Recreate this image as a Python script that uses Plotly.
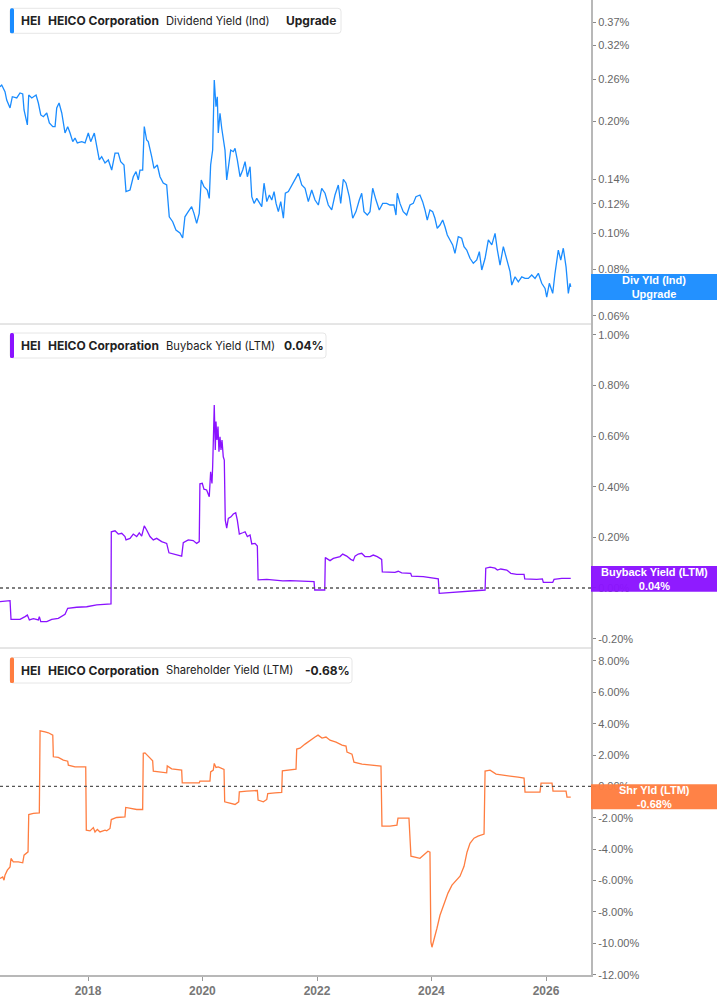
import plotly.graph_objects as go
import pandas as pd

# ---------------- data (dates as decimal years, values in %) ----------------
div_t = [2016.463, 2016.493, 2016.550, 2016.580, 2016.638, 2016.678, 2016.755, 2016.812, 2016.859, 2016.882,
         2016.940, 2016.964, 2017.017, 2017.092, 2017.132, 2017.174, 2017.219, 2017.279, 2017.324, 2017.384,
         2017.424, 2017.453, 2017.494, 2017.541, 2017.598, 2017.645, 2017.686, 2017.733, 2017.773, 2017.813,
         2017.890, 2017.948, 2018.005, 2018.047, 2018.110, 2018.163, 2018.197, 2018.239, 2018.297, 2018.355,
         2018.414, 2018.472, 2018.529, 2018.571, 2018.629, 2018.664, 2018.734, 2018.791, 2018.839, 2018.879,
         2018.908, 2018.955, 2018.983, 2019.025, 2019.053, 2019.113, 2019.153, 2019.211, 2019.258, 2019.315,
         2019.375, 2019.420, 2019.480, 2019.537, 2019.607, 2019.654, 2019.694, 2019.752, 2019.811, 2019.852,
         2019.899, 2019.944, 2019.979, 2020.026, 2020.084, 2020.119, 2020.143, 2020.178, 2020.206, 2020.236,
         2020.259, 2020.276, 2020.306, 2020.336, 2020.363, 2020.393, 2020.423, 2020.451, 2020.493, 2020.538,
         2020.568, 2020.608, 2020.655, 2020.702, 2020.743, 2020.783, 2020.830, 2020.860, 2020.900, 2020.947,
         2020.992, 2021.034, 2021.074, 2021.122, 2021.167, 2021.209, 2021.249, 2021.284, 2021.324, 2021.366,
         2021.412, 2021.446, 2021.499, 2021.558, 2021.616, 2021.674, 2021.733, 2021.791, 2021.848, 2021.907,
         2021.965, 2022.023, 2022.082, 2022.140, 2022.197, 2022.257, 2022.314, 2022.372, 2022.414, 2022.460,
         2022.507, 2022.564, 2022.624, 2022.681, 2022.739, 2022.781, 2022.821, 2022.879, 2022.926, 2022.973,
         2023.031, 2023.088, 2023.148, 2023.218, 2023.275, 2023.345, 2023.380, 2023.403, 2023.450, 2023.507,
         2023.567, 2023.625, 2023.682, 2023.729, 2023.799, 2023.846, 2023.887, 2023.927, 2023.974, 2024.021,
         2024.061, 2024.101, 2024.149, 2024.196, 2024.236, 2024.276, 2024.323, 2024.370, 2024.410, 2024.468,
         2024.527, 2024.568, 2024.615, 2024.672, 2024.730, 2024.790, 2024.835, 2024.877, 2024.935, 2024.992,
         2025.052, 2025.109, 2025.150, 2025.196, 2025.254, 2025.314, 2025.371, 2025.401, 2025.459, 2025.516,
         2025.576, 2025.633, 2025.691, 2025.750, 2025.808, 2025.866, 2025.925, 2025.983, 2026.012, 2026.058,
         2026.117, 2026.157, 2026.215, 2026.257, 2026.302, 2026.350, 2026.390, 2026.419, 2026.432]
div_yield = [0.2479, 0.2505, 0.2404, 0.2283, 0.2173, 0.2330, 0.2312, 0.2384, 0.2370, 0.2146,
             0.1956, 0.2355, 0.2312, 0.2355, 0.2241, 0.2081, 0.2059, 0.2107, 0.1980, 0.1936,
             0.1936, 0.2173, 0.2241, 0.2107, 0.1861, 0.1936, 0.1861, 0.1764, 0.1804, 0.1750,
             0.1764, 0.1750, 0.1861, 0.1764, 0.1861, 0.1696, 0.1575, 0.1607, 0.1546, 0.1575,
             0.1480, 0.1644, 0.1644, 0.1559, 0.1527, 0.1295, 0.1308, 0.1420, 0.1465, 0.1392,
             0.1480, 0.1480, 0.1936, 0.1782, 0.1764, 0.1607, 0.1496, 0.1527, 0.1420, 0.1366,
             0.1349, 0.1108, 0.1075, 0.1021, 0.1002, 0.0972, 0.1108, 0.1144, 0.1180, 0.1132,
             0.1064, 0.1132, 0.1392, 0.1335, 0.1308, 0.1242, 0.1527, 0.1675, 0.2584, 0.2190,
             0.2330, 0.1861, 0.2103, 0.1917, 0.1782, 0.1675, 0.1392, 0.1511, 0.1675, 0.1658,
             0.1692, 0.1575, 0.1420, 0.1480, 0.1559, 0.1420, 0.1511, 0.1255, 0.1204, 0.1242,
             0.1204, 0.1180, 0.1364, 0.1217, 0.1268, 0.1229, 0.1295, 0.1204, 0.1144, 0.1217,
             0.1098, 0.1282, 0.1295, 0.1349, 0.1392, 0.1450, 0.1349, 0.1322, 0.1217, 0.1308,
             0.1229, 0.1192, 0.1322, 0.1282, 0.1192, 0.1156, 0.1268, 0.1349, 0.1204, 0.1398,
             0.1364, 0.1255, 0.1098, 0.1144, 0.1229, 0.1282, 0.1144, 0.1120, 0.1144, 0.1322,
             0.1229, 0.1156, 0.1204, 0.1204, 0.1192, 0.1192, 0.1120, 0.1282, 0.1204, 0.1144,
             0.1120, 0.1192, 0.1204, 0.1255, 0.1268, 0.1217, 0.1156, 0.1086, 0.1156, 0.1144,
             0.1098, 0.1032, 0.1053, 0.1086, 0.1042, 0.0990, 0.0960, 0.0931, 0.0884, 0.0980,
             0.0970, 0.0921, 0.0902, 0.0857, 0.0831, 0.0848, 0.0893, 0.0797, 0.0857, 0.0960,
             0.0931, 0.1000, 0.0902, 0.0822, 0.0921, 0.0848, 0.0789, 0.0726, 0.0764, 0.0741,
             0.0764, 0.0757, 0.0757, 0.0773, 0.0757, 0.0781, 0.0734, 0.0711, 0.0674, 0.0734,
             0.0690, 0.0781, 0.0902, 0.0848, 0.0912, 0.0813, 0.0690, 0.0734, 0.0718]

bb_t = [2016.463, 2016.638, 2016.655, 2016.812, 2016.900, 2016.940, 2016.975, 2017.045, 2017.132, 2017.149,
        2017.174, 2017.279, 2017.366, 2017.481, 2017.598, 2017.645, 2017.803, 2017.977, 2018.152, 2018.402,
        2018.407, 2018.472, 2018.529, 2018.589, 2018.646, 2018.664, 2018.734, 2018.791, 2018.851, 2018.896,
        2018.938, 2018.983, 2019.025, 2019.083, 2019.141, 2019.200, 2019.287, 2019.375, 2019.415, 2019.520,
        2019.637, 2019.665, 2019.752, 2019.839, 2019.899, 2019.944, 2019.956, 2019.997, 2020.026, 2020.073,
        2020.119, 2020.143, 2020.166, 2020.178, 2020.206, 2020.224, 2020.236, 2020.253, 2020.271, 2020.288,
        2020.306, 2020.323, 2020.341, 2020.363, 2020.381, 2020.398, 2020.423, 2020.451, 2020.498, 2020.538,
        2020.580, 2020.608, 2020.643, 2020.702, 2020.743, 2020.783, 2020.830, 2020.860, 2020.917, 2020.957,
        2020.970, 2021.122, 2021.401, 2021.528, 2021.948, 2021.960, 2022.135, 2022.145, 2022.227, 2022.285,
        2022.344, 2022.402, 2022.449, 2022.519, 2022.589, 2022.634, 2022.664, 2022.721, 2022.781, 2022.838,
        2022.926, 2022.983, 2023.053, 2023.130, 2023.141, 2023.275, 2023.362, 2023.420, 2023.480, 2023.637,
        2023.654, 2023.857, 2024.119, 2024.136, 2024.381, 2024.643, 2024.935, 2024.947, 2025.022, 2025.109,
        2025.150, 2025.209, 2025.314, 2025.384, 2025.488, 2025.616, 2025.628, 2025.837, 2025.936, 2025.953,
        2026.117, 2026.140, 2026.274, 2026.432]
bb_yield = [-0.054, -0.050, -0.124, -0.124, -0.113, -0.107, -0.126, -0.121, -0.126, -0.113,
            -0.133, -0.133, -0.124, -0.120, -0.104, -0.080, -0.076, -0.074, -0.067, -0.063,
            0.222, 0.226, 0.213, 0.216, 0.203, 0.190, 0.196, 0.213, 0.203, 0.218,
            0.205, 0.245, 0.229, 0.203, 0.190, 0.196, 0.183, 0.176, 0.139, 0.134,
            0.126, 0.179, 0.190, 0.187, 0.176, 0.183, 0.411, 0.413, 0.390, 0.387,
            0.360, 0.459, 0.413, 0.479, 0.722, 0.545, 0.657, 0.584, 0.637, 0.538,
            0.597, 0.545, 0.584, 0.518, 0.505, 0.268, 0.236, 0.275, 0.281, 0.292,
            0.297, 0.268, 0.213, 0.218, 0.222, 0.203, 0.209, 0.174, 0.176, 0.166,
            0.032, 0.034, 0.028, 0.029, 0.025, -0.008, -0.008, 0.120, 0.108, 0.117,
            0.121, 0.124, 0.134, 0.126, 0.113, 0.108, 0.126, 0.134, 0.137, 0.124,
            0.124, 0.130, 0.124, 0.113, 0.064, 0.063, 0.062, 0.066, 0.060, 0.058,
            0.047, 0.045, 0.036, -0.021, -0.017, -0.011, -0.008, 0.078, 0.082, 0.078,
            0.071, 0.075, 0.071, 0.058, 0.054, 0.054, 0.036, 0.034, 0.036, 0.022,
            0.022, 0.034, 0.038, 0.038]

sy_t = [2016.463, 2016.510, 2016.533, 2016.550, 2016.591, 2016.638, 2016.655, 2016.695, 2016.783, 2016.859,
        2016.882, 2016.952, 2016.964, 2017.045, 2017.149, 2017.162, 2017.249, 2017.307, 2017.384, 2017.394,
        2017.481, 2017.569, 2017.645, 2017.656, 2017.773, 2017.960, 2017.970, 2018.035, 2018.093, 2018.122,
        2018.163, 2018.210, 2018.297, 2018.327, 2018.384, 2018.407, 2018.501, 2018.646, 2018.659, 2018.763,
        2018.851, 2018.955, 2018.966, 2018.996, 2019.053, 2019.130, 2019.141, 2019.258, 2019.375, 2019.385,
        2019.462, 2019.637, 2019.647, 2019.811, 2019.944, 2019.956, 2020.131, 2020.143, 2020.189, 2020.206,
        2020.236, 2020.276, 2020.376, 2020.388, 2020.480, 2020.568, 2020.632, 2020.643, 2020.772, 2020.957,
        2020.970, 2021.062, 2021.122, 2021.139, 2021.266, 2021.383, 2021.394, 2021.528, 2021.633, 2021.645,
        2021.703, 2021.791, 2021.878, 2021.965, 2022.018, 2022.087, 2022.157, 2022.227, 2022.332, 2022.437,
        2022.507, 2022.524, 2022.611, 2022.646, 2022.786, 2022.961, 2023.118, 2023.135, 2023.275, 2023.397,
        2023.415, 2023.607, 2023.642, 2023.799, 2023.939, 2023.974, 2023.991, 2024.009, 2024.044, 2024.096,
        2024.149, 2024.218, 2024.288, 2024.358, 2024.428, 2024.498, 2024.568, 2024.620, 2024.672, 2024.742,
        2024.812, 2024.917, 2024.935, 2025.022, 2025.127, 2025.231, 2025.371, 2025.511, 2025.616, 2025.633,
        2025.790, 2025.895, 2025.913, 2026.105, 2026.122, 2026.350, 2026.367, 2026.432]
sy_yield = [-5.87, -5.77, -5.98, -5.66, -5.34, -5.13, -4.59, -4.81, -4.81, -4.87,
            -4.38, -4.17, -1.79, -1.72, -1.68, 3.55, 3.48, 3.42, 3.27, 1.89,
            1.85, 1.68, 1.61, 1.36, 1.25, 1.25, -2.79, -2.83, -2.62, -2.90,
            -2.74, -2.90, -2.79, -2.83, -2.68, -2.11, -1.98, -1.94, -1.34, -1.40,
            -1.47, -1.47, 2.11, 2.14, 1.93, 1.63, 0.98, 0.91, 0.87, 1.31,
            1.12, 1.04, 0.23, 0.23, 0.23, 0.34, 0.34, 0.93, 1.04, 1.47,
            1.21, 1.25, 1.08, -0.98, -1.08, -1.15, -0.98, -0.34, -0.30, -0.26,
            -0.87, -0.98, -0.83, -0.45, -0.41, -0.38, 1.00, 1.04, 1.10, 2.38,
            2.44, 2.70, 2.95, 3.15, 3.27, 3.08, 3.15, 2.95, 2.83, 2.64,
            2.57, 2.19, 2.06, 1.55, 1.42, 1.36, 1.30, -2.53, -2.53, -2.47,
            -2.02, -2.02, -4.45, -4.58, -4.13, -4.19, -9.93, -10.25, -9.81, -9.04,
            -8.21, -7.44, -6.80, -6.29, -5.98, -5.72, -5.09, -4.19, -3.62, -3.30,
            -3.17, -3.04, 0.98, 1.04, 0.79, 0.72, 0.66, 0.59, 0.53, -0.36,
            -0.36, -0.36, 0.21, 0.21, -0.30, -0.30, -0.68, -0.68]

div_ticks = [0.06, 0.08, 0.10, 0.12, 0.14, 0.20, 0.26, 0.32, 0.37]
bb_ticks = [-0.20, 0.00, 0.20, 0.40, 0.60, 0.80, 1.00]
sy_ticks = [-12, -10, -8, -6, -4, -2, 0, 2, 4, 6, 8]
year_ticks = [2018, 2020, 2022, 2024, 2026]

ticker = "HEI"
company = "HEICO Corporation"
series_names = ["Dividend Yield (Ind)", "Buyback Yield (LTM)", "Shareholder Yield (LTM)"]
series_badges = ["Upgrade", "0.04%", "-0.68%"]
side_labels = [("Div Yld (Ind)", "Upgrade"), ("Buyback Yield (LTM)", "0.04%"), ("Shr Yld (LTM)", "-0.68%")]

for a, b in [(div_t, div_yield), (bb_t, bb_yield), (sy_t, sy_yield)]:
    assert len(a) == len(b), (len(a), len(b))


def to_dt(vals):
    out = []
    for v in vals:
        y = int(v)
        s = pd.Timestamp(year=y, month=1, day=1)
        e = pd.Timestamp(year=y + 1, month=1, day=1)
        out.append(s + (e - s) * (v - y))
    return out


# ---------------- layout geometry ----------------
W, H = 717, 1005
ML, MR, MT, MB = 0, 126, 0, 30
PW, PH = W - ML - MR, H - MT - MB  # 591 x 975


def px_x(px):
    return px / PW


def px_y(py):
    return 1 - py / PH


def rounded_rect(x0, y0, x1, y1, r):
    """SVG path (paper coords) for a rect given in pixel coords with corner radius r px."""
    X = px_x
    Y = px_y
    return ("M {a},{b} L {c},{b} Q {d},{b} {d},{e} L {d},{f} Q {d},{g} {c},{g} "
            "L {a},{g} Q {h},{g} {h},{f} L {h},{e} Q {h},{b} {a},{b} Z").format(
        a=X(x0 + r), b=Y(y0), c=X(x1 - r), d=X(x1), e=Y(y0 + r), f=Y(y1 - r), g=Y(y1), h=X(x0))


BLUE = "#1a8cff"
PURPLE = "#8a12ff"
ORANGE = "#ff7d40"
colors = [BLUE, PURPLE, ORANGE]

dom_top = [px_y(324), 1]
dom_mid = [px_y(648), px_y(324)]
dom_bot = [0, px_y(648)]

fig = go.Figure()
fig.add_trace(go.Scatter(x=to_dt(div_t), y=div_yield, mode="lines", xaxis="x", yaxis="y",
                         line=dict(color=BLUE, width=1.3), showlegend=False))
fig.add_trace(go.Scatter(x=to_dt(bb_t), y=bb_yield, mode="lines", xaxis="x", yaxis="y2",
                         line=dict(color=PURPLE, width=1.3), showlegend=False))
fig.add_trace(go.Scatter(x=to_dt(sy_t), y=sy_yield, mode="lines", xaxis="x", yaxis="y3",
                         line=dict(color=ORANGE, width=1.3), showlegend=False))

tickfont = dict(family="Liberation Sans, Arial, sans-serif", size=11, color="#666666")
yax_common = dict(side="right", anchor="x", showgrid=False, zeroline=False, showline=True,
                  linecolor="#b8b8b8", linewidth=2, ticks="outside", ticklen=3, tickwidth=1,
                  tickcolor="#888888", tickfont=tickfont, fixedrange=True)

fig.update_layout(
    width=W, height=H,
    margin=dict(l=ML, r=MR, t=MT, b=MB, pad=0),
    paper_bgcolor="white", plot_bgcolor="white",
    showlegend=False,
    xaxis=dict(type="date", anchor="y3", domain=[0, 1],
               range=to_dt([2016.463, 2016.463 + 591 / 57.25]),
               tickvals=to_dt(year_ticks), ticktext=["<b>%d</b>" % y for y in year_ticks],
               ticks="outside", ticklen=4, tickcolor="#999999", showline=True,
               linecolor="#b8b8b8", linewidth=2, showgrid=False, zeroline=False,
               tickfont=dict(family="Liberation Sans, Arial, sans-serif", size=12, color="#777777")),
    yaxis=dict(domain=dom_top, type="log", range=[-1.24363, -0.37266],
               tickvals=div_ticks, ticktext=["%.2f%%" % v for v in div_ticks], **yax_common),
    yaxis2=dict(domain=dom_mid, range=[-0.2369, 1.0422],
                tickvals=bb_ticks, ticktext=["%.2f%%" % v for v in bb_ticks], **yax_common),
    yaxis3=dict(domain=dom_bot, range=[-12.02, 8.826],
                tickvals=sy_ticks, ticktext=["%.2f%%" % v for v in sy_ticks], **yax_common),
)

shapes = []
# panel separators
for py in (324, 648):
    shapes.append(dict(type="line", xref="paper", yref="paper", x0=0, x1=1, y0=px_y(py), y1=px_y(py),
                       line=dict(color="#cccccc", width=1)))
# dotted zero lines
for ya in ("y2", "y3"):
    shapes.append(dict(type="line", xref="paper", yref=ya, x0=0, x1=1, y0=0, y1=0,
                       line=dict(color="#555555", width=1.3, dash="dot")))

annotations = []
# right-side value labels
side_boxes = [(274, 300), (566, 591.7), (784.3, 809.3)]
for (y0, y1), col, (l1, l2) in zip(side_boxes, colors, side_labels):
    shapes.append(dict(type="rect", xref="paper", yref="paper", x0=1, x1=W / PW,
                       y0=px_y(y1), y1=px_y(y0), fillcolor=col, opacity=0.96, line=dict(width=0), layer="above"))
    annotations.append(dict(xref="paper", yref="paper", x=654 / PW, y=px_y((y0 + y1) / 2),
                            xanchor="center", yanchor="middle", showarrow=False,
                            text="<b>%s</b><br><b>%s</b>" % (l1, l2),
                            font=dict(family="Liberation Sans, Arial, sans-serif", size=11, color="white")))

# legend tags top-left of each panel
legend_boxes = [(8.3, 33.3, 341), (333, 358, 326), (657.5, 683, 352)]
badge_x = [286, 284, 305]
for i, ((y0, y1, xr), col) in enumerate(zip(legend_boxes, colors)):
    shapes.append(dict(type="path", xref="paper", yref="paper",
                       path=rounded_rect(10, y0, xr, y1, 3), fillcolor="white",
                       line=dict(color="#e6e6e6", width=1), layer="above"))
    shapes.append(dict(type="path", xref="paper", yref="paper",
                       path=rounded_rect(10, y0, 14, y1, 1.5), fillcolor=col,
                       line=dict(width=0), layer="above"))
    cy = (y0 + y1) / 2
    pieces = [(20.7, "<b>%s</b>" % ticker, 12), (48, "<b>%s</b>" % company, 12),
              (166, series_names[i], 11.2), (badge_x[i], "<b>%s</b>" % series_badges[i], 12)]
    for xpx, txt, fs in pieces:
        annotations.append(dict(xref="paper", yref="paper", x=px_x(xpx - 2), y=px_y(cy),
                                xanchor="left", yanchor="middle", showarrow=False, text=txt,
                                font=dict(family="Inter, Roboto, sans-serif", size=fs, color="#222222")))

fig.update_layout(shapes=shapes, annotations=annotations)
fig.write_html("out.html")
